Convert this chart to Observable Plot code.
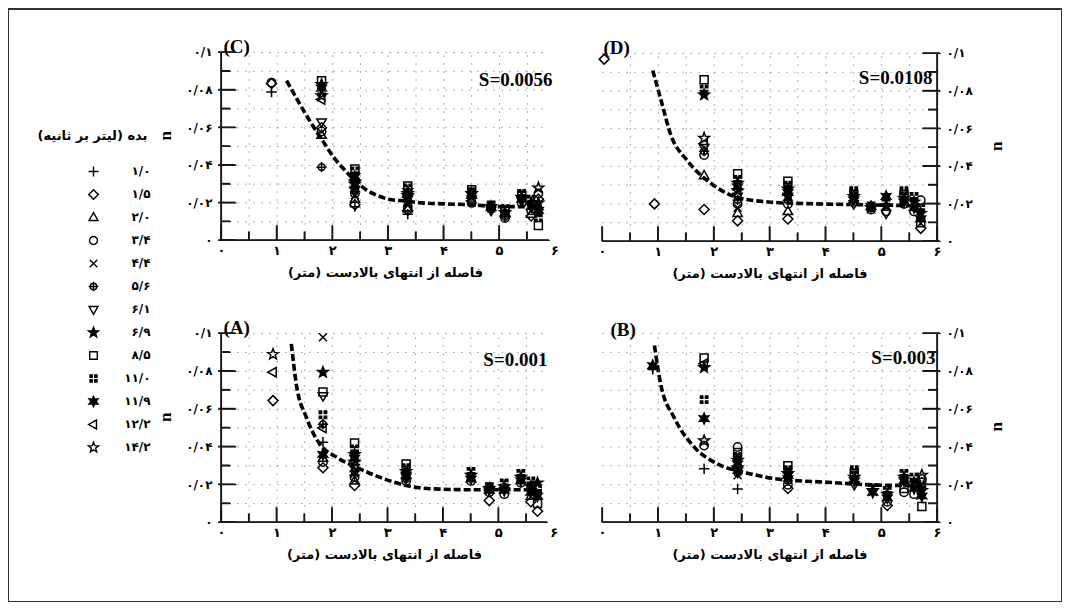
<!DOCTYPE html>
<html><head><meta charset="utf-8">
<script src="https://cdn.jsdelivr.net/npm/d3@7"></script>
<script src="https://cdn.jsdelivr.net/npm/@observablehq/plot@0.6"></script>
<style>
body{margin:0;background:#fff;}
#wrap{position:relative;width:1068px;height:608px;overflow:hidden;background:#fff;}
#frame{position:absolute;left:8px;top:8px;width:1054px;height:594px;border:1.5px solid #333;border-top:2.5px solid #333;box-sizing:border-box;}
.p{position:absolute;}
</style></head>
<body><div id="wrap"><div id="frame"></div></div>
<script>
// ---------- data ----------
const flowLabels = ["۱/۰","۱/۵","۲/۰","۳/۴","۴/۴","۵/۶","۶/۱","۶/۹","۸/۵","۱۱/۰","۱۱/۹","۱۲/۲","۱۴/۲"];
const legendTitle = "بده (لیتر بر ثانیه)";
const xTitle = "فاصله از انتهای بالادست (متر)";
const xTickVals = [0,1,2,3,4,5,6];
const xTickText = ["۰","۱","۲","۳","۴","۵","۶"];
const xTickMinor = [0.5,1.5,2.5,3.5,4.5,5.5];
const yTickVals = [0,0.02,0.04,0.06,0.08,0.1];
const yTickText = ["۰","۰/۰۲","۰/۰۴","۰/۰۶","۰/۰۸","۰/۱"];
const yTickMinor = [0.01,0.03,0.05,0.07,0.09];
const gridX = [0.5,1,1.5,2,2.5,3,3.5,4,4.5,5,5.5];
const gridY = [0.01,0.02,0.03,0.04,0.05,0.06,0.07,0.08,0.09,0.1];

// series index: 0 +,1 ◇,2 △,3 ○,4 ×,5 ⊕,6 ▽,7 ★,8 □,9 ⊞,10 ✱,11 ◁,12 ☆
// Panel C  (S=0.0056): [distance m, n, series]
const pointsC = [
 [0.9,0.084,3],[0.9,0.0835,1],[0.9,0.079,0],
 [1.8,0.085,8],[1.8,0.083,7],[1.8,0.081,10],[1.8,0.079,9],[1.8,0.077,12],[1.8,0.075,11],
 [1.8,0.063,6],[1.8,0.06,1],[1.8,0.058,3],[1.8,0.056,2],[1.8,0.039,5],
 [2.4,0.038,8],[2.4,0.037,9],[2.4,0.034,10],[2.4,0.031,7],[2.4,0.03,12],[2.4,0.028,11],[2.4,0.027,6],
 [2.4,0.026,5],[2.4,0.025,3],[2.4,0.024,4],[2.4,0.022,2],[2.4,0.019,1],[2.4,0.018,0],
 [3.35,0.029,8],[3.35,0.028,9],[3.35,0.026,10],[3.35,0.025,7],[3.35,0.024,12],[3.35,0.023,11],[3.35,0.022,6],
 [3.35,0.021,5],[3.35,0.02,4],[3.35,0.018,3],[3.35,0.017,2],[3.35,0.016,1],[3.35,0.014,0],
 [4.5,0.027,8],[4.5,0.026,9],[4.5,0.025,7],[4.5,0.024,10],[4.5,0.022,6],[4.5,0.021,11],[4.5,0.02,3],
 [4.85,0.019,9],[4.85,0.018,7],[4.85,0.0175,10],[4.85,0.017,3],[4.85,0.016,6],
 [5.1,0.017,9],[5.1,0.016,8],[5.1,0.015,7],[5.1,0.014,10],[5.1,0.013,1],[5.1,0.012,3],
 [5.4,0.025,9],[5.4,0.024,8],[5.4,0.023,7],[5.4,0.022,10],[5.4,0.021,6],[5.4,0.02,3],
 [5.57,0.022,9],[5.57,0.02,7],[5.57,0.018,10],[5.57,0.016,3],[5.57,0.014,2],[5.57,0.013,1],
 [5.7,0.028,12],[5.7,0.025,3],[5.7,0.022,1],[5.7,0.02,7],[5.7,0.018,2],[5.7,0.016,10],[5.7,0.012,9],[5.7,0.008,8]
];
const curveCx = [1.17,1.4,1.6,1.8,2.0,2.2,2.4,2.6,2.8,3.0,3.3,3.6,4.0,4.5,5.0,5.3,5.6,5.75];
const curveCn = [0.085,0.073,0.063,0.054,0.045,0.038,0.032,0.027,0.024,0.022,0.021,0.02,0.0195,0.019,0.018,0.018,0.018,0.019];

// Panel D (S=0.0108)
const pointsD = [
 [0.03,0.097,1],[0.93,0.02,1],
 [1.82,0.086,8],[1.82,0.081,9],[1.82,0.078,7],[1.82,0.055,12],[1.82,0.052,11],[1.82,0.05,6],[1.82,0.048,5],
 [1.82,0.046,3],[1.82,0.035,2],[1.82,0.017,1],
 [2.42,0.036,8],[2.42,0.033,9],[2.42,0.031,7],[2.42,0.029,10],[2.42,0.027,12],[2.42,0.025,11],[2.42,0.024,6],
 [2.42,0.022,5],[2.42,0.02,3],[2.42,0.018,4],[2.42,0.015,2],[2.42,0.011,1],
 [3.32,0.032,8],[3.32,0.03,9],[3.32,0.028,7],[3.32,0.026,10],[3.32,0.025,11],[3.32,0.024,6],[3.32,0.022,5],
 [3.32,0.02,3],[3.32,0.016,2],[3.32,0.012,1],
 [4.5,0.027,9],[4.5,0.025,8],[4.5,0.024,7],[4.5,0.022,10],[4.5,0.02,6],
 [4.81,0.019,9],[4.81,0.0185,10],[4.81,0.018,7],[4.81,0.017,3],
 [5.08,0.024,10],[5.08,0.021,9],[5.08,0.019,7],[5.08,0.016,3],[5.08,0.015,6],
 [5.4,0.027,9],[5.4,0.025,8],[5.4,0.023,7],[5.4,0.021,10],[5.4,0.02,3],
 [5.58,0.024,9],[5.58,0.021,7],[5.58,0.018,10],[5.58,0.016,3],
 [5.7,0.022,3],[5.7,0.018,9],[5.7,0.015,7],[5.7,0.012,10],[5.7,0.01,8],[5.7,0.007,1]
];
const curveDx = [0.9,1.05,1.22,1.52,1.94,2.42,3.07,3.6,4.2,4.8,5.3,5.7];
const curveDn = [0.091,0.075,0.057,0.043,0.031,0.0234,0.0208,0.0202,0.0198,0.0195,0.0192,0.019];

// Panel A (S=0.001)
const pointsA = [
 [0.93,0.089,12],[0.93,0.0795,11],[0.93,0.0645,1],
 [1.83,0.098,4],[1.83,0.0795,7],[1.83,0.069,8],[1.83,0.067,6],[1.83,0.057,9],[1.83,0.052,5],[1.83,0.05,11],
 [1.83,0.0425,0],[1.83,0.036,10],[1.83,0.034,2],[1.83,0.032,3],[1.83,0.029,1],
 [2.4,0.042,8],[2.4,0.039,9],[2.4,0.036,7],[2.4,0.034,10],[2.4,0.032,12],[2.4,0.03,11],[2.4,0.029,6],
 [2.4,0.027,5],[2.4,0.026,4],[2.4,0.025,0],[2.4,0.024,3],[2.4,0.022,2],[2.4,0.0196,1],
 [3.33,0.031,8],[3.33,0.029,9],[3.33,0.027,7],[3.33,0.025,10],[3.33,0.024,6],[3.33,0.023,5],[3.33,0.022,3],
 [4.5,0.027,9],[4.5,0.025,7],[4.5,0.023,10],[4.5,0.022,3],
 [4.83,0.019,9],[4.83,0.018,7],[4.83,0.017,10],[4.83,0.016,3],[4.83,0.0116,1],
 [5.1,0.021,9],[5.1,0.019,7],[5.1,0.018,1],[5.1,0.017,10],[5.1,0.015,3],
 [5.4,0.026,9],[5.4,0.024,7],[5.4,0.022,10],[5.4,0.021,3],
 [5.58,0.022,9],[5.58,0.019,7],[5.58,0.018,3],[5.58,0.016,10],[5.58,0.014,2],[5.58,0.011,1],
 [5.7,0.021,7],[5.7,0.018,9],[5.7,0.014,10],[5.7,0.01,8],[5.7,0.006,1]
];
const curveAx = [1.26,1.35,1.53,1.77,2.07,2.43,2.85,3.33,3.81,4.65,5.55,5.7];
const curveAn = [0.0945,0.073,0.0557,0.0416,0.0346,0.0293,0.024,0.0196,0.0178,0.0173,0.0173,0.0173];

// Panel B (S=0.003)
const pointsB = [
 [0.9,0.083,10],[0.9,0.081,0],
 [1.82,0.087,8],[1.82,0.084,11],[1.82,0.082,7],[1.82,0.065,9],[1.82,0.055,10],[1.82,0.0433,12],[1.82,0.0407,3],[1.82,0.0284,0],
 [2.42,0.04,3],[2.42,0.037,8],[2.42,0.035,9],[2.42,0.033,7],[2.42,0.031,10],[2.42,0.029,12],[2.42,0.028,11],
 [2.42,0.027,6],[2.42,0.026,5],[2.42,0.025,4],[2.42,0.0177,0],
 [3.32,0.03,8],[3.32,0.028,9],[3.32,0.026,7],[3.32,0.025,10],[3.32,0.023,6],[3.32,0.022,5],[3.32,0.02,3],[3.32,0.018,1],
 [4.51,0.028,9],[4.51,0.026,8],[4.51,0.024,7],[4.51,0.022,10],[4.51,0.02,6],
 [4.84,0.0185,9],[4.84,0.017,7],[4.84,0.016,10],
 [5.1,0.017,9],[5.1,0.015,7],[5.1,0.013,10],[5.1,0.011,3],[5.1,0.009,1],
 [5.4,0.026,9],[5.4,0.024,7],[5.4,0.022,10],[5.4,0.018,8],[5.4,0.016,3],
 [5.58,0.024,9],[5.58,0.021,7],[5.58,0.018,10],[5.58,0.015,3],
 [5.72,0.025,12],[5.72,0.023,3],[5.72,0.02,9],[5.72,0.017,7],[5.72,0.014,10],[5.72,0.0085,8]
];
const curveBx = [0.93,1.04,1.28,1.64,2.06,2.54,3.13,4.03,4.93,5.76];
const curveBn = [0.0937,0.0735,0.0557,0.04,0.031,0.0266,0.023,0.0213,0.0198,0.0195];

// ---------- symbols ----------
const R = s => Math.sqrt(s / Math.PI);
const sym = {
  plus: {draw(c,s){const r=R(s)*1.3;c.moveTo(-r,0);c.lineTo(r,0);c.moveTo(0,-r);c.lineTo(0,r);}},
  diamond: {draw(c,s){const r=R(s)*1.25;c.moveTo(0,-r);c.lineTo(r,0);c.lineTo(0,r);c.lineTo(-r,0);c.closePath();}},
  triUp: {draw(c,s){const r=R(s)*1.3;c.moveTo(0,-r);c.lineTo(r*0.9,r*0.6);c.lineTo(-r*0.9,r*0.6);c.closePath();}},
  circle: {draw(c,s){const r=R(s)*1.05;c.moveTo(r,0);c.arc(0,0,r,0,2*Math.PI);}},
  times: {draw(c,s){const r=R(s)*1.0;c.moveTo(-r,-r);c.lineTo(r,r);c.moveTo(r,-r);c.lineTo(-r,r);}},
  circPlus: {draw(c,s){const r=R(s)*0.85;c.moveTo(r,0);c.arc(0,0,r,0,2*Math.PI);c.moveTo(-r*1.5,0);c.lineTo(r*1.5,0);c.moveTo(0,-r*1.5);c.lineTo(0,r*1.5);}},
  triDown: {draw(c,s){const r=R(s)*1.3;c.moveTo(0,r);c.lineTo(r*0.9,-r*0.6);c.lineTo(-r*0.9,-r*0.6);c.closePath();}},
  star: {draw(c,s){const r=R(s)*1.4,ri=r*0.42;for(let i=0;i<10;i++){const a=-Math.PI/2+i*Math.PI/5,rr=i%2?ri:r;const x=rr*Math.cos(a),y=rr*Math.sin(a);i?c.lineTo(x,y):c.moveTo(x,y);}c.closePath();}},
  square: {draw(c,s){const r=R(s)*1.0;c.moveTo(-r,-r);c.lineTo(r,-r);c.lineTo(r,r);c.lineTo(-r,r);c.closePath();}},
  squarePlus: {draw(c,s){const r=R(s)*1.1,g=r*0.14;for(const [sx,sy] of [[-1,-1],[1,-1],[-1,1],[1,1]]){const x0=sx<0?-r:g,y0=sy<0?-r:g,w=r-g;c.moveTo(x0,y0);c.lineTo(x0+w,y0);c.lineTo(x0+w,y0+w);c.lineTo(x0,y0+w);c.closePath();}}},
  astStar: {draw(c,s){const r=R(s)*1.35,ri=r*0.5;for(let i=0;i<12;i++){const a=-Math.PI/2+i*Math.PI/6,rr=i%2?ri:r;const x=rr*Math.cos(a),y=rr*Math.sin(a);i?c.lineTo(x,y):c.moveTo(x,y);}c.closePath();}},
  triLeft: {draw(c,s){const r=R(s)*1.3;c.moveTo(-r,0);c.lineTo(r*0.6,-r*0.9);c.lineTo(r*0.6,r*0.9);c.closePath();}}
};
const seriesSym = [sym.plus,sym.diamond,sym.triUp,sym.circle,sym.times,sym.circPlus,sym.triDown,sym.star,sym.square,sym.squarePlus,sym.astStar,sym.triLeft,sym.star];
const seriesFill = ["none","none","none","none","none","none","none","black","none","black","black","none","none"];
const seriesStroke = ["black","black","black","black","black","black","black","black","black","none","black","black","black"];

const faFont = "'DejaVu Sans', sans-serif";
const latFont = "'Liberation Serif', 'Times New Roman', serif";
const RLM = "\u200F";
const wrap = document.getElementById("wrap");
const axesLayers = [];

function dotMarks(data, r) {
  return seriesSym.map((s, i) => Plot.dot(data.filter(d => d.s === i), {
    x: "x", y: "n", symbol: s, r, fill: seriesFill[i], stroke: seriesStroke[i], strokeWidth: 1.5
  }));
}

function place(svg, left, top) {
  svg.classList.add("p");
  svg.style.left = left + "px";
  svg.style.top = top + "px";
  return svg;
}

function panel(cfg) {
  const {pts, cx, cn, label, slope, side, xMax, left, top, fw, fh, labelDx, labelDy, sDx, sDy} = cfg;
  const mL = side === "left" ? 75 : 30, mR = side === "left" ? 30 : 90, mT = 45, mB = 60;
  const dims = {width: mL + fw + mR, height: mT + fh + mB, marginLeft: mL, marginRight: mR, marginTop: mT, marginBottom: mB,
    x: {domain: [0, xMax], axis: null}, y: {domain: [0, 0.1], axis: null},
    style: {background: "transparent", overflow: "visible"}};
  const data = pts.map(([x, n, s]) => ({x, n, s}));
  const curve = cx.map((x, i) => ({x, n: cn[i]}));
  const axX = side === "left" ? 0 : xMax;
  const dir = side === "left" ? 1 : -1;

  const content = Plot.plot({...dims, marks: [
    Plot.text(xTickVals, {x: d => d, text: (d, i) => xTickText[i], frameAnchor: "bottom", dy: 14,
      fontFamily: faFont, fontWeight: "bold", fontSize: 13}),
    Plot.text(yTickVals, {y: d => d, text: (d, i) => yTickText[i], frameAnchor: side === "left" ? "left" : "right",
      dx: side === "left" ? -9 : 9, textAnchor: side === "left" ? "end" : "start",
      fontFamily: faFont, fontWeight: "bold", fontSize: 12}),
    Plot.text([RLM + xTitle + RLM], {frameAnchor: "bottom", dy: 36, fontFamily: faFont, fontWeight: "bold", fontSize: 13}),
    Plot.text(["n"], {frameAnchor: side === "left" ? "left" : "right", dx: side === "left" ? -56 : 59, dy: -6,
      rotate: -90, fontFamily: latFont, fontWeight: "bold", fontSize: 17}),
    Plot.text([label], {frameAnchor: "top-left", dx: labelDx, dy: labelDy, textAnchor: "start",
      fontFamily: latFont, fontWeight: "bold", fontSize: 19}),
    Plot.text([slope], {frameAnchor: "top-right", dx: sDx, dy: sDy, textAnchor: "end",
      fontFamily: latFont, fontWeight: "bold", fontSize: 19}),
    Plot.line(curve, {x: "x", y: "n", stroke: "black", strokeWidth: 3.6, strokeDasharray: "7,3",
      strokeLinecap: "butt", curve: "monotone-x"}),
    ...dotMarks(data, 4)
  ]});
  wrap.appendChild(place(content, left - mL, top - mT));

  const gx = gridX.filter(v => v < xMax);
  const segList = [
    [axX, 0, axX, 0.1],
    [0, 0, xMax, 0],
    ...xTickVals.filter(v => v <= xMax).map(v => [v, 0, v, 0.0078]),
    ...xTickMinor.map(v => [v, 0, v, 0.0045]),
    ...yTickVals.map(v => [axX - dir * 0.05, v, axX + dir * 0.26, v]),
    ...yTickMinor.map(v => [axX, v, axX + dir * 0.16, v])
  ];
  const segPts = segList.flatMap(([a, b, c, d], id) => [{id, x: a, y: b}, {id, x: c, y: d}]);
  const vSegs = segList.filter(s => s[0] === s[2]).map(([a, b, c, d]) => ({x1: a, x2: c, y1: Math.min(b, d), y2: Math.max(b, d)}));
  const hSegs = segList.filter(s => s[1] === s[3]).map(([a, b, c, d]) => ({x1: Math.min(a, c), x2: Math.max(a, c), y1: b, y2: d}));
  const axes = Plot.plot({...dims, marks: [
    Plot.link(gridY, {x1: () => 0, x2: () => xMax, y1: d => d, y2: d => d, stroke: "#666", strokeWidth: 1, strokeDasharray: "1,7"}),
    Plot.link(gx, {x1: d => d, x2: d => d, y1: () => 0, y2: () => 0.1, stroke: "#666", strokeWidth: 1, strokeDasharray: "1,7"}),
    Plot.rect(vSegs, {x1: "x1", x2: "x2", y1: "y1", y2: "y2", fill: "#111", insetLeft: -0.8, insetRight: -0.8}),
    Plot.rect(hSegs, {x1: "x1", x2: "x2", y1: "y1", y2: "y2", fill: "#111", insetTop: -0.8, insetBottom: -0.8}),
    Plot.line(segPts, {x: "x", y: "y", z: "id", stroke: "#1a1a1a", strokeWidth: 1.2, strokeDasharray: "400,0.5"})
  ]});
  axesLayers.push(place(axes, left - mL, top - mT));
}

panel({pts: pointsC, cx: curveCx, cn: curveCn, label: "(C)", slope: "S=0.0056", side: "left", xMax: 5.9,
  left: 221, top: 52, fw: 328, fh: 188, labelDx: 2, labelDy: -13, sDx: 3, sDy: 20});
panel({pts: pointsD, cx: curveDx, cn: curveDn, label: "(D)", slope: "S=0.0108", side: "right", xMax: 6,
  left: 602, top: 53, fw: 335, fh: 188, labelDx: 1, labelDy: -13, sDx: -5, sDy: 17});
panel({pts: pointsA, cx: curveAx, cn: curveAn, label: "(A)", slope: "S=0.001", side: "left", xMax: 5.88,
  left: 221, top: 333, fw: 326, fh: 189, labelDx: 2, labelDy: -13, sDx: 0, sDy: 19});
panel({pts: pointsB, cx: curveBx, cn: curveBn, label: "(B)", slope: "S=0.003", side: "right", xMax: 6,
  left: 602, top: 333, fw: 335, fh: 189, labelDx: 8, labelDy: -11, sDx: -2, sDy: 17});

// ---------- legend ----------
const legendData = flowLabels.map((l, i) => ({l, i}));
const leg = Plot.plot({
  width: 170, height: 360, margin: 0,
  x: {domain: [0, 1], range: [93, 150], axis: null},
  y: {type: "point", domain: flowLabels, range: [37, 344], axis: null},
  style: {background: "transparent", overflow: "visible"},
  marks: [
    Plot.text([RLM + legendTitle + RLM], {frameAnchor: "top-left", dx: 92, dy: 12, textAnchor: "middle",
      fontFamily: faFont, fontWeight: "bold", fontSize: 13}),
    ...seriesSym.map((s, i) => Plot.dot([legendData[i]], {x: () => 0, y: "l", symbol: s, r: 3.8,
      fill: seriesFill[i], stroke: seriesStroke[i], strokeWidth: 1.4})),
    Plot.text(legendData, {x: () => 1, y: "l", text: "l", textAnchor: "end", fontFamily: faFont, fontWeight: "bold", fontSize: 12})
  ]
});
wrap.appendChild(place(leg, 0, 118));
axesLayers.forEach(svg => wrap.appendChild(svg));
</script>
</body></html>
